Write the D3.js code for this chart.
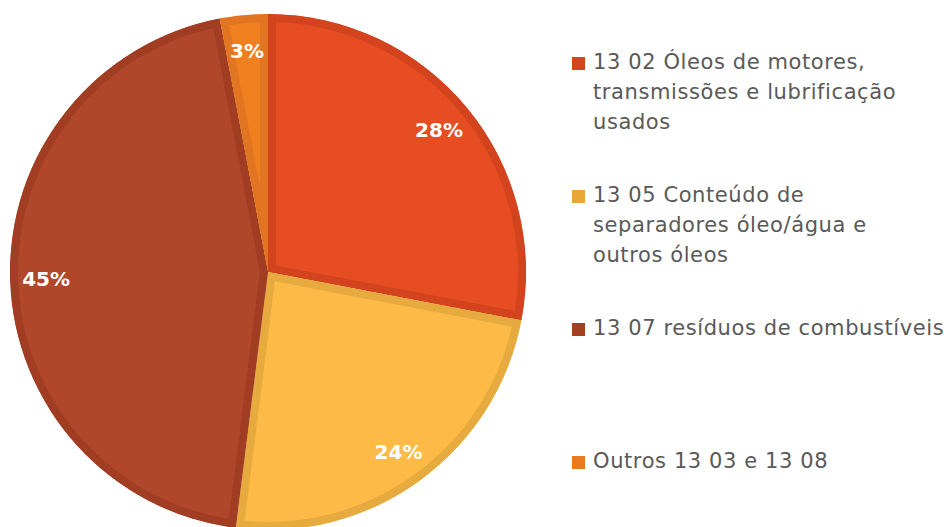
<!DOCTYPE html>
<html>
<head>
<meta charset="utf-8">
<script src="https://cdn.jsdelivr.net/npm/d3@7"></script>
<style>
  body { margin: 0; background: #fff; }
</style>
</head>
<body>
<svg id="svg" width="947" height="527"></svg>
<script>
// slices, clockwise from 12 o'clock
var labels = ["13 02 Óleos de motores, transmissões e lubrificação usados",
              "13 05 Conteúdo de separadores óleo/água e outros óleos",
              "13 07 resíduos de combustíveis",
              "Outros 13 03 e 13 08"];
var values = [28, 24, 45, 3];
// legend text broken the way the picture wraps it
var legendLines = [["13 02 Óleos de motores,", "transmissões e lubrificação", "usados"],
                   ["13 05 Conteúdo de", "separadores óleo/água e", "outros óleos"],
                   ["13 07 resíduos de combustíveis"],
                   ["Outros 13 03 e 13 08"]];
var fills = ["#E64D22", "#FDBA47", "#B1472A", "#F07F1F"];
var borders = ["#D2431E", "#E6AA3E", "#A13D22", "#E27522"];
var keys = ["#D4451E", "#E8A838", "#A2401F", "#E97A1E"];

var svg = d3.select("#svg");
var cx = 268, cy = 272, R = 258;

var pie = d3.pie().sort(null).value(function(d) { return d; });
var arcs = pie(values);
var arc = d3.arc().innerRadius(0).outerRadius(R);
var labelArc = d3.arc().innerRadius(222).outerRadius(222);

var g = svg.append("g").attr("transform", "translate(" + cx + "," + cy + ")");

// each slice clips its own thick stroke so the border sits inside
var defs = svg.append("defs");
defs.selectAll("clipPath").data(arcs).enter()
    .append("clipPath")
    .attr("id", function(d, i) { return "clip" + i; })
    .append("path")
    .attr("d", arc);

g.selectAll("path.slice").data(arcs).enter()
    .append("path")
    .attr("class", "slice")
    .attr("d", arc)
    .attr("fill", function(d, i) { return fills[i]; })
    .attr("stroke", function(d, i) { return borders[i]; })
    .attr("stroke-width", 16)
    .attr("stroke-linejoin", "round")
    .attr("clip-path", function(d, i) { return "url(#clip" + i + ")"; });

g.selectAll("text.pct").data(arcs).enter()
    .append("text")
    .attr("class", "pct")
    .attr("transform", function(d) { return "translate(" + labelArc.centroid(d) + ")"; })
    .attr("text-anchor", "middle")
    .attr("dy", "0.35em")
    .attr("fill", "#fff")
    .attr("font-family", "DejaVu Sans, sans-serif")
    .attr("font-weight", "bold")
    .attr("font-size", 20)
    .text(function(d) { return d.data + "%"; });

// legend
var legendY = [69, 202, 335, 468];
var leg = svg.selectAll("g.leg").data(legendLines).enter()
    .append("g")
    .attr("class", "leg")
    .attr("transform", function(d, i) { return "translate(572," + legendY[i] + ")"; });

leg.append("rect")
    .attr("x", 0).attr("y", -12)
    .attr("width", 13).attr("height", 13)
    .attr("fill", function(d, i) { return keys[i]; });

leg.each(function(lines) {
    var t = d3.select(this).append("text")
        .attr("fill", "#595959")
        .attr("font-family", "DejaVu Sans, sans-serif")
        .attr("font-size", 21)
        .attr("letter-spacing", 0.6);
    lines.forEach(function(s, j) {
        t.append("tspan").attr("x", 21).attr("y", j * 30).text(s);
    });
});
</script>
</body>
</html>
